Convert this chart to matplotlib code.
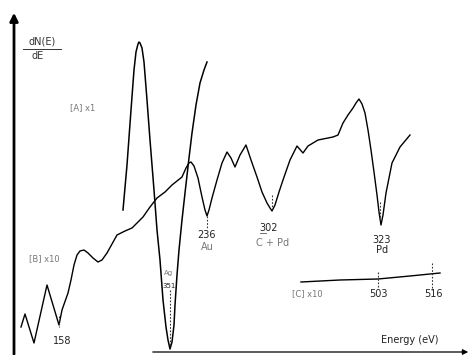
import matplotlib
matplotlib.use("Agg")
import matplotlib.pyplot as plt
import numpy as np

# picture units: x = position along the trace, y = signal height (arbitrary)
H = 355

# curve [A] x1 (Ag peak)
a_x = [123, 127, 131, 134, 136, 138, 139, 140, 142, 144, 147, 150, 154, 157, 160, 163, 166, 168, 170,
       172, 174, 175, 177, 179, 182, 185, 189, 192, 196, 200, 204, 207]
a_y = [210, 165, 110, 70, 52, 44, 42, 43, 48, 62, 100, 140, 190, 230, 260, 300, 327, 340, 349,
       342, 325, 305, 275, 250, 220, 193, 158, 133, 105, 83, 70, 62]

# curve [B] x10
b_x = [21, 25, 34, 47, 59, 62, 68, 71, 74, 77, 80, 84, 88, 93, 98, 102, 107, 112, 117, 125, 132, 143, 150,
       157, 165, 172, 182, 186, 189, 191, 194, 198, 202, 205, 207, 209, 212, 217, 222, 227, 231, 235, 240,
       246, 251, 257, 262, 267, 270, 272, 275, 279, 283, 290, 297, 303, 308, 313, 318, 323, 333, 338,
       343, 348, 353, 356, 359, 362, 365, 368, 371, 374, 377, 379, 381, 383, 386, 392, 400, 410]
b_y = [327, 314, 343, 285, 325, 310, 293, 280, 265, 255, 251, 250, 253, 258, 262, 260, 253, 244, 235, 231,
       228, 217, 207, 198, 192, 185, 177, 168, 163, 162, 166, 178, 197, 210, 216, 210, 198, 180, 163,
       152, 158, 167, 155, 145, 160, 177, 192, 203, 208, 211, 205, 192, 180, 160, 146, 153, 146, 143,
       140, 139, 137, 135, 123, 115, 108, 103, 99, 104, 113, 130, 150, 172, 195, 212, 225, 215, 193,
       163, 147, 135]

# curve [C] x10
c_x = [301, 340, 378, 410, 440]
c_y = [282, 280, 279, 276, 273]

# peak markers: (x, y_top, y_bottom)
marks = [(59, 316, 327), (207, 216, 229), (272, 195, 209), (380, 202, 221), (170, 290, 347),
         (378, 272, 288), (432, 263, 290)]

# labels: (text, x, y, size)
labels = [("[A] x1", 83, 108, 6), ("[B] x10", 44, 259, 6), ("158", 62, 341, 7),
          ("236", 207, 235, 7), ("Au", 207, 247, 7), ("302", 269, 228, 7), ("C + Pd", 273, 243, 7),
          ("323", 382, 240, 7), ("Pd", 382, 250, 7), ("[C] x10", 307, 294, 6),
          ("503", 378, 294, 7), ("516", 433, 294, 7), ("Ag", 169, 273, 5), ("351", 169, 286, 5),
          ("Energy (eV)", 410, 340, 7)]

fig = plt.figure(figsize=(4.71, 3.55), dpi=100)
ax = fig.add_axes([0, 0, 1, 1])
ax.set_xlim(0, 471)
ax.set_ylim(0, H)
ax.axis("off")

def up(v):
    return [H - t for t in v]

ax.plot(a_x, up(a_y), color="black", lw=1.1, solid_joinstyle="round")
ax.plot(b_x, up(b_y), color="black", lw=1.0, solid_joinstyle="round")
ax.plot(c_x, up(c_y), color="black", lw=1.0)

for x, y0, y1 in marks:
    ax.plot([x, x], [H - y0, H - y1], color="#333333", lw=0.8, ls=(0, (1.5, 1.5)))

for t, x, y, s in labels:
    col = "#222222" if t[0].isdigit() or t in ("Pd", "Energy (eV)") else "#777777"
    ax.text(x, H - y, t, ha="center", va="center", fontsize=s, color=col)

# axis label dN(E)/dE
ax.text(42, H - 42, "dN(E)", ha="center", va="center", fontsize=7, color="#333333")
ax.plot([23, 61], [H - 49, H - 49], color="#333333", lw=0.7)
ax.text(38, H - 56, "dE", ha="center", va="center", fontsize=7, color="#333333")
ax.plot([260, 266], [H - 233, H - 233], color="#555555", lw=0.6)

# axes arrows
ax.annotate("", xy=(14, H - 10), xytext=(14, -2),
            arrowprops=dict(arrowstyle="-|>", color="black", lw=2, mutation_scale=12))
ax.annotate("", xy=(471, H - 352), xytext=(150, H - 352),
            arrowprops=dict(arrowstyle="-|>", color="black", lw=0.9, mutation_scale=8))

fig.savefig("out.png", dpi=100)
